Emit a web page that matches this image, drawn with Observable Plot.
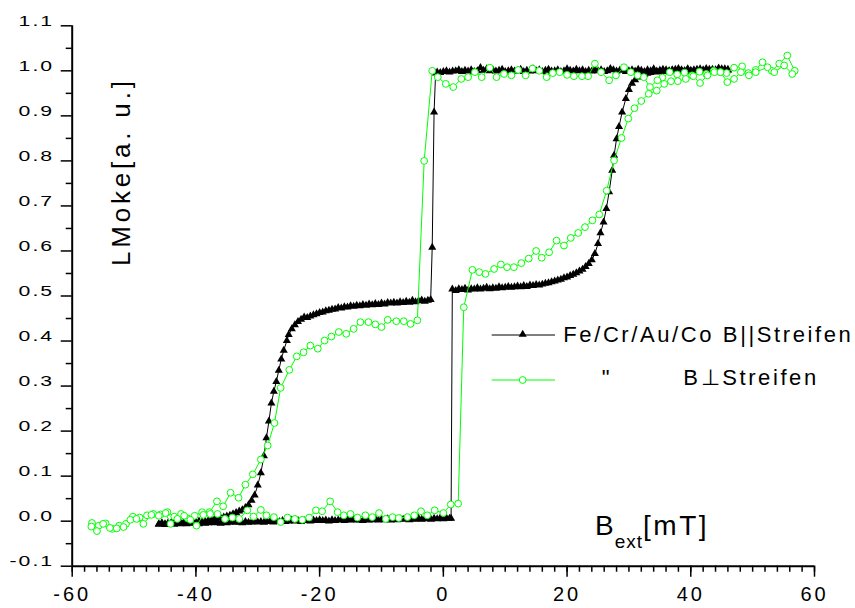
<!DOCTYPE html>
<html><head><meta charset="utf-8">
<script src="https://cdn.jsdelivr.net/npm/d3@7"></script>
<script src="https://cdn.jsdelivr.net/npm/@observablehq/plot@0.6"></script>
<style>
body{margin:0;background:#fff;}
#wrap{width:855px;height:608px;}
g[aria-label="y-axis tick label"]{font-size:15.5px;letter-spacing:1.5px;}
g[aria-label="x-axis tick label"]{font-size:20px;letter-spacing:3px;}
</style></head><body><div id="wrap"></div>
<script>
// ---- tick values ----
const xTicks = [-60, -40, -20, 0, 20, 40, 60];
const yTicks = [-0.1, 0, 0.1, 0.2, 0.3, 0.4, 0.5, 0.6, 0.7, 0.8, 0.9, 1.0, 1.1];
const xMinorTicks = d3.range(-60, 61, 2);
const yMinorTicks = [-0.05, 0.05, 0.15, 0.25, 0.35, 0.45, 0.55, 0.65, 0.75, 0.85, 0.95, 1.05];

// ---- series names ----
const seriesNames = ["Fe/Cr/Au/Co B||Streifen", "B\u22a5Streifen"];

// ---- Black (B || Streifen), descending field branch ----
const blackDownB = [46,45.5,45,44.5,44,43.5,43,42.5,42,41.5,41,40.5,40,39.5,39,38.5,38,37.5,37,36.5,36,35.5,35,34.5,34,33.5,33,32.5,32,31.5,31,30.5,30,29.5,29,28.5,28,27.5,27,26.5,26,25.5,25,24.5,24,23.5,23,22.5,22,21.5,21,20.5,20,19.5,19,18.5,18,17.5,17,16.5,16,15.5,15,14.5,14,13.5,13,12.5,12,11.5,11,10.5,10,9.5,9,8.5,8,7.5,7,6.5,6,5.5,5,4.5,4,3.5,3,2.5,2,1.5,1,0.5,0,-0.5,-1,-1.25,-1.5,-1.8,-2.05,-2.5,-3,-3.5,-4,-4.5,-5,-5.5,-6,-6.5,-7,-7.5,-8,-8.5,-9,-9.5,-10,-10.5,-11,-11.5,-12,-12.5,-13,-13.5,-14,-14.5,-15,-15.5,-16,-16.5,-17,-17.5,-18,-18.5,-19,-19.5,-20,-20.5,-21,-21.5,-22,-22.5,-23,-23.5,-24,-24.5,-25,-25.3,-25.8,-26.2,-26.6,-27,-27.4,-27.8,-28.2,-28.6,-29,-29.5,-30,-30.5,-31,-31.5,-32,-32.5,-33,-33.5,-34,-34.5,-35,-35.5,-36,-36.5,-37,-37.5,-38,-38.5,-39,-39.5,-40,-40.5,-41,-41.5,-42,-42.5,-43,-43.5,-44,-44.5,-45,-45.5,-46];
const blackDownM = [1.003,0.999,1.004,1.0,1.002,0.998,1.003,1.001,0.999,1.004,1.0,1.002,0.998,1.003,1.0,1.001,1.005,0.999,1.002,1.0,0.998,1.003,1.001,0.999,1.004,1.0,1.002,0.998,1.001,1.003,0.999,1.002,1.0,0.998,1.003,1.001,0.999,1.002,1.005,1.0,0.998,1.002,1.0,1.003,0.999,1.001,0.998,1.002,1.0,1.003,0.999,1.001,1.004,1.0,0.998,1.002,1.0,0.999,1.003,1.001,0.998,1.002,1.0,1.004,0.999,1.001,0.998,1.003,1.0,0.999,1.002,1.0,0.998,1.003,1.001,0.999,1.002,1.0,1.004,1.001,1.007,1.0,0.998,1.002,0.999,1.001,0.998,1.002,1.0,0.999,0.997,1.0,0.998,0.996,0.997,0.995,0.908,0.608,0.492,0.49,0.488,0.491,0.489,0.487,0.49,0.486,0.488,0.485,0.487,0.484,0.486,0.484,0.485,0.482,0.484,0.481,0.483,0.48,0.482,0.479,0.481,0.478,0.479,0.477,0.478,0.475,0.476,0.473,0.474,0.471,0.47,0.468,0.467,0.464,0.463,0.46,0.458,0.455,0.452,0.453,0.448,0.443,0.436,0.427,0.414,0.401,0.379,0.36,0.335,0.31,0.288,0.262,0.222,0.185,0.145,0.107,0.08,0.058,0.046,0.036,0.03,0.025,0.022,0.019,0.016,0.013,0.011,0.009,0.007,0.006,0.004,0.003,0.001,0.0,-0.002,0.0,-0.003,-0.001,-0.004,-0.002,-0.004,-0.003,-0.005,-0.003,-0.005,-0.004,-0.006,-0.004,-0.006];

// ---- Black (B || Streifen), ascending field branch ----
const blackUpB = [-46,-45.5,-45,-44.5,-44,-43.5,-43,-42.5,-42,-41.5,-41,-40.5,-40,-39.5,-39,-38.5,-38,-37.5,-37,-36.5,-36,-35.5,-35,-34.5,-34,-33.5,-33,-32.5,-32,-31.5,-31,-30.5,-30,-29.5,-29,-28.5,-28,-27.5,-27,-26.5,-26,-25.5,-25,-24.5,-24,-23.5,-23,-22.5,-22,-21.5,-21,-20.5,-20,-19.5,-19,-18.5,-18,-17.5,-17,-16.5,-16,-15.5,-15,-14.5,-14,-13.5,-13,-12.5,-12,-11.5,-11,-10.5,-10,-9.5,-9,-8.5,-8,-7.5,-7,-6.5,-6,-5.5,-5,-4.5,-4,-3.5,-3,-2.5,-2,-1.5,-1,-0.5,0,0.5,1,1.25,1.45,2,2.5,3,3.5,4,4.5,5,5.5,6,6.5,7,7.5,8,8.5,9,9.5,10,10.5,11,11.5,12,12.5,13,13.5,14,14.5,15,15.5,16,16.5,17,17.5,18,18.5,19,19.5,20,20.5,21,21.5,22,22.5,23,23.5,24,24.5,25,25.4,25.9,26.35,26.8,27.3,27.6,28,28.4,28.9,29.5,30,30.5,31,31.5,32,32.5,33,33.5,34,34.5,35,35.5,36,36.5,37,37.5,38,38.5,39,39.5,40,40.5,41,41.5,42,42.5,43,43.5,44,44.5,45,45.5,46];
const blackUpM = [-0.007,-0.005,-0.008,-0.006,-0.004,-0.007,-0.005,-0.006,-0.004,-0.006,-0.003,-0.005,-0.004,-0.006,-0.003,-0.005,-0.004,-0.002,-0.004,-0.003,-0.005,-0.002,-0.004,-0.003,-0.001,-0.003,-0.002,-0.004,-0.001,-0.003,-0.002,0.0,-0.002,-0.001,-0.003,0.0,-0.001,-0.002,0.0,-0.001,0.001,-0.001,0.0,0.002,0.0,0.001,-0.001,0.001,0.002,0.0,0.002,0.001,0.003,0.001,0.002,0.0,0.003,0.001,0.002,0.004,0.001,0.003,0.002,0.004,0.002,0.003,0.001,0.004,0.002,0.003,0.005,0.002,0.004,0.003,0.005,0.002,0.004,0.003,0.005,0.004,0.006,0.003,0.005,0.004,0.006,0.004,0.005,0.007,0.004,0.006,0.005,0.007,0.005,0.007,0.006,0.006,0.515,0.512,0.516,0.514,0.517,0.513,0.516,0.515,0.518,0.515,0.517,0.519,0.516,0.518,0.517,0.52,0.518,0.519,0.521,0.519,0.52,0.522,0.52,0.523,0.521,0.524,0.523,0.525,0.524,0.526,0.528,0.529,0.531,0.533,0.535,0.537,0.54,0.542,0.545,0.548,0.551,0.555,0.559,0.565,0.572,0.58,0.594,0.616,0.64,0.664,0.694,0.731,0.779,0.812,0.849,0.876,0.908,0.938,0.958,0.972,0.98,0.986,0.99,0.992,0.994,0.996,0.998,0.997,1.0,0.998,1.002,0.999,1.001,1.003,0.999,1.002,1.0,1.004,1.001,0.999,1.003,1.0,1.002,1.005,1.0,1.003,1.001,1.006,1.002,1.004,1.001];

// ---- Green (B perpendicular Streifen), descending field branch ----
const greenDownB = [56.8,55.6,54.3,53.1,51.6,50.5,49.3,48.3,47.0,45.8,44.8,43.7,42.5,41.4,40.2,39.0,37.8,36.6,35.4,34.6,33.4,32.4,31.4,30.3,29.2,27.9,26.8,25.5,24.5,23.4,22.4,21.1,20.0,18.8,17.7,16.7,15.5,14.4,13.3,12.1,11.0,9.8,8.6,7.5,6.2,5.1,4.0,2.9,1.6,0.4,-0.9,-1.8,-3.1,-4.2,-5.3,-6.4,-7.6,-9.0,-10.0,-11.0,-12.1,-13.4,-14.5,-15.7,-16.9,-18.1,-19.2,-20.3,-21.5,-22.6,-23.7,-24.9,-26.3,-27.3,-28.4,-29.5,-30.8,-32.0,-33.1,-34.4,-35.6,-36.6,-37.8,-39.0,-40.2,-41.3,-42.4,-43.5,-44.6,-45.7,-46.9,-47.9,-49.1,-50.2,-51.3,-52.4,-53.5,-54.6,-55.7,-56.8];
const greenDownM = [1.0,1.034,1.016,1.0,1.019,1.002,0.995,1.01,1.007,0.995,0.997,1.0,0.993,0.998,0.99,0.996,0.992,0.997,0.985,0.979,0.964,0.986,0.99,0.997,1.008,0.99,0.979,0.997,1.016,0.988,0.988,0.988,0.991,0.997,0.995,0.986,1.0,1.005,0.99,1.002,0.99,0.993,0.986,1.007,0.986,0.997,0.986,0.982,0.964,0.971,0.986,1.0,0.80,0.446,0.438,0.444,0.444,0.447,0.431,0.437,0.442,0.442,0.427,0.416,0.42,0.41,0.401,0.383,0.39,0.375,0.366,0.336,0.296,0.218,0.168,0.137,0.104,0.081,0.052,0.063,0.033,0.044,0.02,0.02,0.012,0.006,0.016,0.01,0.02,0.015,0.016,0.013,0.008,0.01,-0.006,-0.01,-0.017,-0.005,-0.01,-0.004];

// ---- Green (B perpendicular Streifen), ascending field branch ----
const greenUpB = [-56.9,-56.0,-55.0,-53.9,-52.8,-51.7,-50.6,-49.6,-48.5,-47.2,-46.0,-44.9,-44.1,-43.0,-41.9,-40.9,-39.9,-38.8,-37.7,-36.5,-35.3,-34.1,-33.0,-31.7,-30.7,-29.5,-28.6,-27.4,-26.3,-25.2,-24.0,-22.8,-21.7,-20.6,-19.6,-18.3,-17.1,-16.1,-15.0,-13.9,-12.6,-11.5,-10.4,-9.3,-8.2,-7.2,-5.8,-4.7,-3.6,-2.6,-1.4,0.0,1.2,2.4,3.3,4.7,5.8,6.8,8.2,9.3,10.3,11.4,12.6,13.8,15.0,15.9,17.1,18.3,19.5,20.6,21.8,22.9,24.1,25.2,26.4,27.6,28.8,29.9,30.9,32.0,33.2,34.5,35.7,36.8,37.9,39.2,40.4,41.5,42.7,43.8,44.8,45.9,47.0,48.1,49.4,50.5,52.4,53.5,55.1,56.4];
const greenUpM = [-0.012,-0.022,-0.006,-0.015,-0.016,-0.013,0.003,0.005,-0.006,0.014,0.012,0.018,-0.006,0.005,0.012,0.003,-0.01,0.014,0.016,0.016,0.005,0.008,0.005,0.024,0.01,0.025,0.013,0.009,-0.002,0.008,0.005,0.003,0.008,0.024,0.022,0.044,0.02,0.013,0.016,0.008,0.013,0.009,0.018,0.005,0.009,0.007,0.009,0.013,0.022,0.013,0.024,0.018,0.037,0.039,0.475,0.558,0.553,0.549,0.56,0.57,0.564,0.564,0.573,0.583,0.6,0.585,0.597,0.623,0.612,0.629,0.64,0.653,0.668,0.681,0.734,0.801,0.851,0.894,0.917,0.933,0.949,0.956,0.971,0.977,0.977,0.982,0.988,0.973,0.99,0.997,0.997,0.975,0.982,0.997,0.99,0.997,1.008,0.997,1.012,0.993];

// ---- build tables ----
function branch(name, xs, ys) { return xs.map((b, i) => ({branch: name, b, m: ys[i]})); }
const black = [...branch("bd", blackDownB, blackDownM), ...branch("bu", blackUpB, blackUpM)];
const green = [...branch("gd", greenDownB, greenDownM), ...branch("gu", greenUpB, greenUpM)];

const GREEN = "#00ff00";
const FONT = '"Liberation Sans", Arial, sans-serif';
const TRI_R = 3;

const plt = Plot.plot({
  width: 855, height: 608,
  marginLeft: 71.7, marginRight: 41, marginTop: 25.3, marginBottom: 42.3,
  x: {domain: [-60, 60], label: null},
  y: {domain: [-0.1, 1.1], label: null},
  style: {fontFamily: FONT, color: "black", background: "white", overflow: "visible"},
  marks: [
    Plot.axisX({ticks: xMinorTicks, tickSize: 6, tickFormat: () => "", strokeWidth: 1.5, label: null}),
    Plot.axisX({ticks: xTicks, tickSize: 11, tickPadding: 10, strokeWidth: 1.5, label: null, tickFormat: d => String(d)}),
    Plot.axisY({ticks: yMinorTicks, tickSize: 6, tickFormat: () => "", strokeWidth: 1.5, label: null}),
    Plot.axisY({ticks: yTicks, tickSize: 11, tickPadding: 7, strokeWidth: 1.5, label: null, tickFormat: d => d.toFixed(1)}),
    Plot.ruleX([-60], {stroke: "black", strokeWidth: 2}),
    Plot.ruleY([-0.1], {stroke: "black", strokeWidth: 2}),
    Plot.line(black, {x: "b", y: "m", z: "branch", stroke: "black", strokeWidth: 1}),
    Plot.dot(black, {x: "b", y: "m", symbol: "triangle", r: TRI_R, fill: "black", stroke: "none"}),
    Plot.line(green, {x: "b", y: "m", z: "branch", stroke: GREEN, strokeWidth: 1}),
    Plot.dot(green, {x: "b", y: "m", r: 3.4, fill: "white", stroke: GREEN, strokeWidth: 1})
  ]
});
document.getElementById("wrap").appendChild(plt);

const svg = d3.select(plt);
// widen the y tick labels horizontally (the original uses a stretched font), keeping the right edge in place
svg.selectAll('g[aria-label="y-axis tick label"] text').each(function () {
  const t = d3.select(this);
  const x = +t.attr("x") || 0, y = +t.attr("y") || 0;
  const tr = t.attr("transform") || "";
  const before = this.getBoundingClientRect().right;
  t.attr("x", null).attr("y", null).attr("transform", `${tr} translate(${x},${y}) scale(1.37,1)`);
  const d = this.getBoundingClientRect().right - before;
  t.attr("transform", `${tr} translate(${x - d},${y}) scale(1.37,1)`);
});

// ---- axis titles and legend ----
const ann = svg.append("g").attr("font-family", FONT).attr("fill", "black").attr("text-anchor", "start");
ann.append("text").attr("transform", "translate(129.5,266) rotate(-90)")
  .attr("font-size", 26).attr("letter-spacing", 3.8).text("LMoke[a. u.]");
const bt = ann.append("text").attr("x", 595).attr("y", 535).attr("font-size", 28).attr("letter-spacing", 1);
bt.append("tspan").text("B");
bt.append("tspan").attr("font-size", 19).attr("dy", 13).text("ext");
bt.append("tspan").attr("dy", -13).attr("letter-spacing", 2.5).text("[mT]");

const leg = svg.append("g").attr("font-family", FONT).attr("text-anchor", "start");
leg.append("line").attr("x1", 491.7).attr("x2", 555).attr("y1", 335).attr("y2", 335).attr("stroke", "black").attr("stroke-width", 1);
leg.append("path").attr("d", d3.symbol(d3.symbolTriangle, Math.PI * TRI_R * TRI_R)()).attr("transform", "translate(522.7,334.5)").attr("fill", "black");
leg.append("text").attr("x", 563.3).attr("y", 341.7).attr("font-size", 22).attr("letter-spacing", 2.6).text(seriesNames[0]);
leg.append("line").attr("x1", 491.7).attr("x2", 555).attr("y1", 380).attr("y2", 380).attr("stroke", GREEN).attr("stroke-width", 1);
leg.append("circle").attr("cx", 522.7).attr("cy", 380).attr("r", 3.4).attr("fill", "white").attr("stroke", GREEN);
leg.append("text").attr("x", 601.7).attr("y", 385).attr("font-size", 22).text("\"");
leg.append("text").attr("x", 683.3).attr("y", 385).attr("font-size", 22).attr("letter-spacing", 2.6).text(seriesNames[1]);
</script></body></html>
